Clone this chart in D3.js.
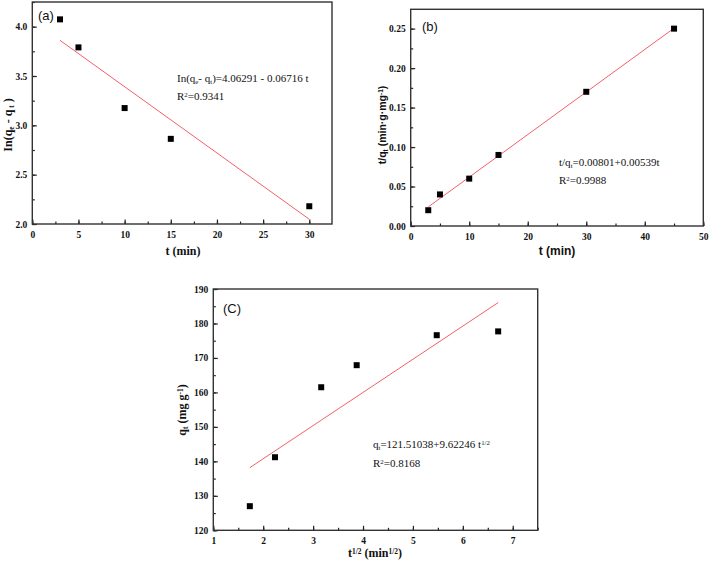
<!DOCTYPE html>
<html><head><meta charset="utf-8">
<script src="https://cdn.jsdelivr.net/npm/d3@7"></script>
<style>body{margin:0;background:#fff}svg{display:block}</style>
</head><body>
<svg id="c" width="709" height="567"></svg>
<script>
// Panel (a): pseudo-first-order
const aTime = [3, 5, 10, 15, 30];
const aLnQ = [4.074, 3.79, 3.175, 2.863, 2.18];
const aFit = {intercept: 4.06291, slope: -0.06716, from: 3, to: 30};
const aXTicks = [0, 5, 10, 15, 20, 25, 30];
const aYTicks = [2.0, 2.5, 3.0, 3.5, 4.0];
// Panel (b): pseudo-second-order
const bTime = [3, 5, 10, 15, 30, 45];
const bTQ = [0.02, 0.04, 0.06, 0.09, 0.17, 0.25];
const bFit = {intercept: 0.00801, slope: 0.00539, from: 3, to: 45};
const bXTicks = [0, 10, 20, 30, 40, 50];
const bYTicks = [0.00, 0.05, 0.10, 0.15, 0.20, 0.25];
// Panel (c): intraparticle diffusion
const cSqrtT = [1.732, 2.236, 3.162, 3.873, 5.477, 6.708];
const cQt = [127.0, 141.2, 161.5, 167.9, 176.6, 177.7];
const cFit = {intercept: 121.51038, slope: 9.62246, from: 1.732, to: 6.708};
const cXTicks = [1, 2, 3, 4, 5, 6, 7];
const cYTicks = [120, 130, 140, 150, 160, 170, 180, 190];

const svg = d3.select("#c");
const SERIF = "'Liberation Serif','Times New Roman',serif";
const SANS = "'Liberation Sans',Arial,sans-serif";
const RED = "#f2606c";

function panel(o) {
  const g = svg.append("g");
  const x = d3.scaleLinear().domain(o.xd).range([o.x0, o.x1]);
  const y = d3.scaleLinear().domain(o.yd).range([o.y1, o.y0]);
  const xMinor = d3.range(o.xd[0], o.xd[1] + 1e-9, o.xMinor);
  const yMinor = d3.range(o.yd[0], o.yd[1] + 1e-9, o.yMinor);
  const xa = d3.axisBottom(x).tickValues(xMinor).tickSize(-2.5).tickFormat("");
  g.append("g").attr("transform", `translate(0,${o.y1})`).call(xa);
  const ya = d3.axisLeft(y).tickValues(yMinor).tickSize(-2.5).tickFormat("");
  g.append("g").attr("transform", `translate(${o.x0},0)`).call(ya);
  const xA = d3.axisBottom(x).tickValues(o.xt).tickSize(-4.5).tickPadding(7).tickFormat(o.xf);
  const gx = g.append("g").attr("transform", `translate(0,${o.y1})`).call(xA);
  const yA = d3.axisLeft(y).tickValues(o.yt).tickSize(-4.5).tickPadding(5).tickFormat(o.yf);
  const gy = g.append("g").attr("transform", `translate(${o.x0},0)`).call(yA);
  g.selectAll(".domain").remove();
  g.selectAll(".tick line").attr("stroke", "#222").attr("stroke-width", 1.2);
  [gx, gy].forEach(s => s.attr("font-family", SERIF).selectAll("text")
    .attr("font-family", SERIF).attr("font-weight", "bold").attr("font-size", 9.5).attr("fill", "#111"));
  g.append("rect").attr("x", o.x0).attr("y", o.y0).attr("width", o.x1 - o.x0).attr("height", o.y1 - o.y0)
    .attr("fill", "none").attr("stroke", "#333").attr("stroke-width", 1.4);
  g.append("line")
    .attr("x1", x(o.fit.from)).attr("y1", y(o.fit.intercept + o.fit.slope * o.fit.from))
    .attr("x2", x(o.fit.to)).attr("y2", y(o.fit.intercept + o.fit.slope * o.fit.to))
    .attr("stroke", RED).attr("stroke-width", 1);
  g.selectAll("rect.pt").data(o.xs).enter().append("rect").attr("class", "pt")
    .attr("x", (d) => x(d) - 3).attr("y", (d, i) => y(o.ys[i]) - 3)
    .attr("width", 6).attr("height", 6).attr("fill", "#000");
  return {g, x, y};
}

panel({x0: 32.3, x1: 332, y0: 2, y1: 224, xd: [0, 32.46], yd: [2.0, 4.25],
  xt: aXTicks, yt: aYTicks, xMinor: 2.5, yMinor: 0.25, xf: d3.format("d"), yf: d3.format(".1f"),
  xs: aTime, ys: aLnQ, fit: aFit});
panel({x0: 410.7, x1: 703.3, y0: 9.3, y1: 226, xd: [0, 50], yd: [0, 0.2745],
  xt: bXTicks, yt: bYTicks, xMinor: 5, yMinor: 0.025, xf: d3.format("d"), yf: d3.format(".2f"),
  xs: bTime, ys: bTQ, fit: bFit});
panel({x0: 213.3, x1: 537.7, y0: 289, y1: 530.3, xd: [1, 7.5], yd: [120, 190],
  xt: cXTicks, yt: cYTicks, xMinor: 0.5, yMinor: 5, xf: d3.format("d"), yf: d3.format("d"),
  xs: cSqrtT, ys: cQt, fit: cFit});

function plab(t, xx, yy) {
  svg.append("text").attr("x", xx).attr("y", yy).attr("font-family", SANS).attr("font-size", 13).attr("fill", "#111").text(t);
}
plab("(a)", 38, 20);
plab("(b)", 422, 31);
plab("(C)", 223, 313);

function rich(sel, parts, fs) {
  parts.forEach(([t, k]) => {
    const ts = sel.append("tspan").text(t);
    if (k === "sub") ts.attr("baseline-shift", "-25%").attr("font-size", fs * 0.62);
    if (k === "sup") ts.attr("baseline-shift", "45%").attr("font-size", fs * 0.62);
  });
}
function txt(xx, yy, parts, o) {
  const t = svg.append("text").attr("x", xx).attr("y", yy)
    .attr("font-family", o.family).attr("font-size", o.size)
    .attr("font-weight", o.weight || "normal").attr("fill", "#111")
    .attr("text-anchor", o.anchor || "start");
  if (o.rotate) t.attr("transform", `rotate(-90,${xx},${yy})`);
  rich(t, parts, o.size);
  return t;
}

txt(177, 82, [["In(q", ""], ["e", "sub"], ["- q", ""], ["t", "sub"], [")=4.06291 - 0.06716 t", ""]], {family: SERIF, size: 11});
txt(177, 100, [["R", ""], ["2", "sup"], ["=0.9341", ""]], {family: SERIF, size: 11});
txt(559, 166, [["t/q", ""], ["t", "sub"], ["=0.00801+0.00539t", ""]], {family: SERIF, size: 11});
txt(559, 184, [["R", ""], ["2", "sup"], ["=0.9988", ""]], {family: SERIF, size: 11});
txt(373, 448, [["q", ""], ["t", "sub"], ["=121.51038+9.62246 t", ""], ["1/2", "sup"]], {family: SERIF, size: 11});
txt(373, 467, [["R", ""], ["2", "sup"], ["=0.8168", ""]], {family: SERIF, size: 11});

txt(183, 255, [["t (min)", ""]], {family: SERIF, size: 12, weight: "bold", anchor: "middle"});
txt(12, 125, [["In(q", ""], ["e", "sub"], [" - q", ""], [" t", "sub"], [" )", ""]], {family: SERIF, size: 12, weight: "bold", anchor: "middle", rotate: true});
txt(557, 255, [["t (min)", ""]], {family: SANS, size: 12, weight: "bold", anchor: "middle"});
txt(386, 125, [["t/q", ""], ["t", "sub"], [" (min·g·mg", ""], ["-1", "sup"], [")", ""]], {family: SANS, size: 10.5, weight: "bold", anchor: "middle", rotate: true});
txt(375, 557, [["t", ""], ["1/2", "sup"], [" (min", ""], ["1/2", "sup"], [")", ""]], {family: SERIF, size: 12, weight: "bold", anchor: "middle"});
txt(186, 410, [["q", ""], ["t", "sub"], [" (mg g", ""], ["-1", "sup"], [")", ""]], {family: SERIF, size: 12, weight: "bold", anchor: "middle", rotate: true});
</script>
</body></html>
